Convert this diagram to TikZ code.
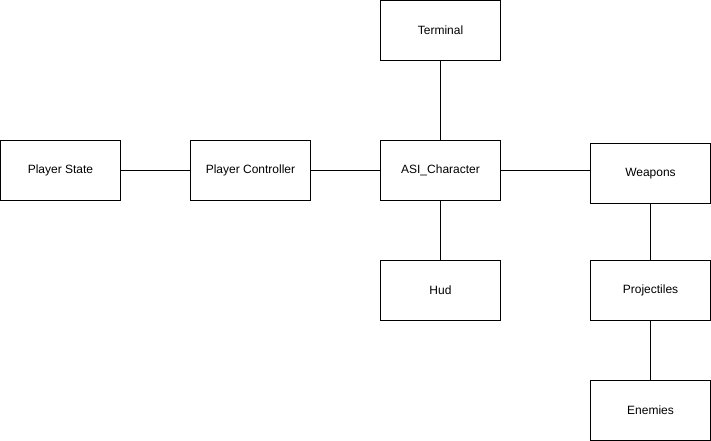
\documentclass[tikz,border=0pt]{standalone}
\usepackage{fontspec}
\setmainfont{Liberation Sans}
\usepackage{tikz}

\begin{document}
\begin{tikzpicture}[x=0.75pt,y=0.75pt,yscale=-1,xscale=1,
  block/.style={draw,line width=0.75pt,minimum width=90pt,minimum height=45pt,inner sep=0.75pt,font=\fontsize{9pt}{11pt}\selectfont}]
\useasboundingbox (0,0) rectangle (711,441);
\node [block] (term) at (440.5,30.5) {Terminal};
\node [block] (pstate) at (60.5,170.5) {Player State};
\node [block] (pctrl) at (250.5,170.5) {Player Controller};
\node [block] (asi) at (440.5,170.5) {ASI\_Character};
\node [block] (weap) at (650.5,173.5) {Weapons};
\node [block] (hud) at (440.5,290.5) {Hud};
\node [block] (proj) at (650.5,290.5) {Projectiles};
\node [block] (enem) at (650.5,410.5) {Enemies};
\draw [line width=0.75pt] (pstate) -- (pctrl);
\draw [line width=0.75pt] (pctrl) -- (asi);
\draw [line width=0.75pt] (asi) -- (term);
\draw [line width=0.75pt] (asi) -- (hud);
\draw [line width=0.75pt] (asi.east) -- (asi.east -| weap.west);
\draw [line width=0.75pt] (weap) -- (proj);
\draw [line width=0.75pt] (proj) -- (enem);
\end{tikzpicture}
\end{document}
